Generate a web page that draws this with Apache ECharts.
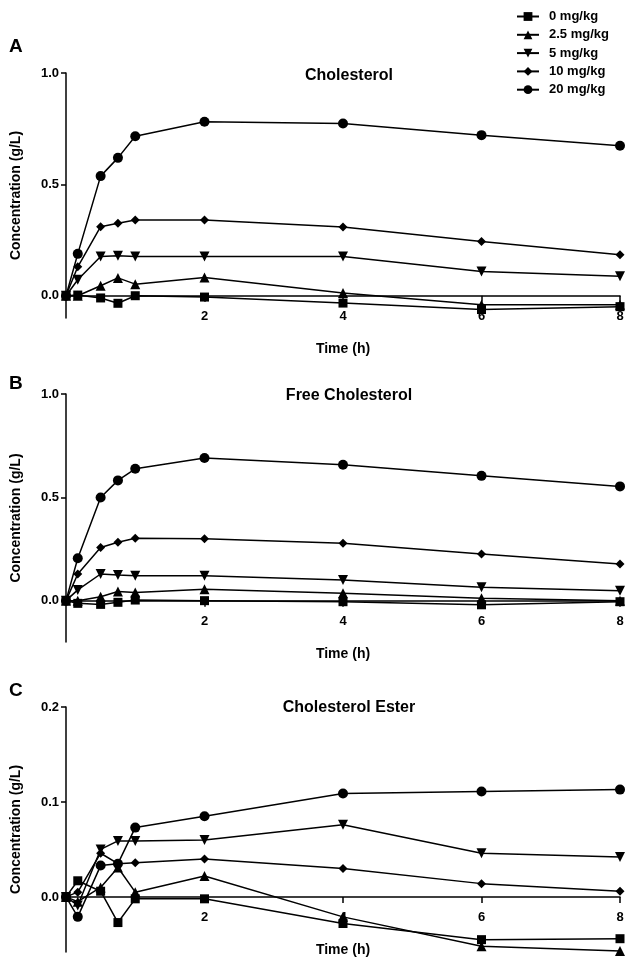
<!DOCTYPE html>
<html>
<head>
<meta charset="utf-8">
<script src="https://cdn.jsdelivr.net/npm/echarts@6/dist/echarts.min.js"></script>
<style>html,body{margin:0;padding:0;background:#fff;}#c{width:632px;height:963px;}</style>
</head>
<body>
<div id="c"></div>
<script>
// Time points (h)
const times = [0, 0.17, 0.5, 0.75, 1, 2, 4, 6, 8];
const doseNames = ['0 mg/kg', '2.5 mg/kg', '5 mg/kg', '10 mg/kg', '20 mg/kg'];
const xTicks = [2, 4, 6, 8];

// Panel A: Cholesterol (g/L)
const cholDose0  = [0, 0.003, -0.010, -0.034, 0.000, -0.006, -0.033, -0.062, -0.049];
const cholDose25 = [0, 0.000, 0.045, 0.080, 0.052, 0.082, 0.012, -0.040, -0.040];
const cholDose5  = [0, 0.072, 0.176, 0.179, 0.176, 0.176, 0.176, 0.109, 0.087];
const cholDose10 = [0, 0.130, 0.310, 0.325, 0.340, 0.340, 0.309, 0.243, 0.184];
const cholDose20 = [0, 0.188, 0.537, 0.619, 0.716, 0.781, 0.773, 0.721, 0.673];
const cholTicks = [0, 0.5, 1.0];

// Panel B: Free Cholesterol (g/L)
const freeDose0  = [0, -0.013, -0.018, -0.008, 0.003, 0.000, -0.005, -0.020, -0.005];
const freeDose25 = [0, 0.000, 0.019, 0.044, 0.040, 0.055, 0.036, 0.012, 0.000];
const freeDose5  = [0, 0.052, 0.129, 0.124, 0.120, 0.120, 0.100, 0.065, 0.048];
const freeDose10 = [0, 0.129, 0.257, 0.283, 0.302, 0.299, 0.278, 0.226, 0.178];
const freeDose20 = [0, 0.205, 0.499, 0.582, 0.638, 0.690, 0.658, 0.604, 0.553];
const freeTicks = [0, 0.5, 1.0];

// Panel C: Cholesterol Ester (g/L)
const esterDose0  = [0, 0.017, 0.006, -0.027, -0.002, -0.002, -0.028, -0.045, -0.044];
const esterDose25 = [0, -0.005, 0.010, 0.031, 0.005, 0.022, -0.021, -0.052, -0.057];
const esterDose5  = [0, -0.009, 0.050, 0.059, 0.059, 0.060, 0.076, 0.046, 0.042];
const esterDose10 = [0, 0.005, 0.046, 0.035, 0.036, 0.040, 0.030, 0.014, 0.006];
const esterDose20 = [0, -0.021, 0.033, 0.035, 0.073, 0.085, 0.109, 0.111, 0.113];
const esterTicks = [0, 0.1, 0.2];

const panels = [
  { title: 'Cholesterol', letter: 'A', values: [cholDose0, cholDose25, cholDose5, cholDose10, cholDose20], ticks: cholTicks, min: -0.1, max: 1.0 },
  { title: 'Free Cholesterol', letter: 'B', values: [freeDose0, freeDose25, freeDose5, freeDose10, freeDose20], ticks: freeTicks, min: -0.2, max: 1.0 },
  { title: 'Cholesterol Ester', letter: 'C', values: [esterDose0, esterDose25, esterDose5, esterDose10, esterDose20], ticks: esterTicks, min: -0.058, max: 0.2 }
];

const FONT = '"Liberation Sans", Arial, Helvetica, sans-serif';
const gridBoxes = [
  { top: 73, height: 245 },
  { top: 394, height: 248 },
  { top: 707, height: 245 }
];
const titleTops = [63, 383, 695];
const letterTops = [32, 369, 676];
const symbols = [
  { symbol: 'rect', size: 9, rotate: 0 },
  { symbol: 'triangle', size: 10, rotate: 0 },
  { symbol: 'triangle', size: 10, rotate: 180 },
  { symbol: 'diamond', size: 9, rotate: 0 },
  { symbol: 'circle', size: 10, rotate: 0 }
];

const grids = [], xAxes = [], yAxes = [], series = [], titles = [];
panels.forEach((p, i) => {
  const g = gridBoxes[i];
  grids.push({ left: 66, right: 12, top: g.top, height: g.height, containLabel: false });
  // place the x axis on the zero line: shift it up from the grid bottom
  const zeroShift = g.height * (0 - p.min) / (p.max - p.min);
  xAxes.push({
    gridIndex: i, type: 'value', min: 0, max: 8, position: 'bottom', offset: -zeroShift,
    name: 'Time (h)', nameLocation: 'middle', nameGap: 46,
    nameTextStyle: { color: '#000', fontFamily: FONT, fontWeight: 'bold', fontSize: 14 },
    axisLine: { onZero: false, lineStyle: { color: '#000', width: 1.5 } },
    axisTick: { show: true, length: 6, customValues: xTicks, lineStyle: { color: '#000', width: 1.5 } },
    axisLabel: { customValues: xTicks, margin: 14, color: '#000', fontFamily: FONT, fontWeight: 'bold', fontSize: 13 },
    splitLine: { show: false }
  });
  yAxes.push({
    gridIndex: i, type: 'value', min: p.min, max: p.max,
    name: 'Concentration (g/L)', nameLocation: 'middle', nameGap: 43,
    nameTextStyle: { color: '#000', fontFamily: FONT, fontWeight: 'bold', fontSize: 14 },
    axisLine: { show: true, onZero: false, lineStyle: { color: '#000', width: 1.5 } },
    axisTick: { show: true, length: 5, customValues: p.ticks, lineStyle: { color: '#000', width: 1.5 } },
    axisLabel: { customValues: p.ticks, margin: 7, color: '#000', fontFamily: FONT, fontWeight: 'bold', fontSize: 13,
      formatter: v => Number(v).toFixed(1) },
    splitLine: { show: false }
  });
  p.values.forEach((vals, k) => {
    series.push({
      name: doseNames[k], type: 'line', xAxisIndex: i, yAxisIndex: i,
      data: times.map((t, j) => [t, vals[j]]),
      symbol: symbols[k].symbol, symbolSize: symbols[k].size, symbolRotate: symbols[k].rotate,
      showAllSymbol: true,
      lineStyle: { color: '#000', width: 1.5 },
      itemStyle: { color: '#000', borderWidth: 0 },
      emphasis: { disabled: true },
      z: 2 + k
    });
  });
  titles.push({ text: p.title, left: 344, top: titleTops[i], textAlign: 'center',
    textStyle: { color: '#000', fontFamily: FONT, fontWeight: 'bold', fontSize: 16 } });
  titles.push({ text: p.letter, left: 4, top: letterTops[i],
    textStyle: { color: '#000', fontFamily: FONT, fontWeight: 'bold', fontSize: 19 } });
});

const chart = echarts.init(document.getElementById('c'), null, { renderer: 'canvas' });
chart.setOption({
  animation: false,
  backgroundColor: '#fff',
  title: titles,
  legend: {
    data: doseNames, orient: 'vertical', left: 511, top: 5,
    itemWidth: 22, itemHeight: 11, itemGap: 5.3,
    textStyle: { color: '#000', fontFamily: FONT, fontWeight: 'bold', fontSize: 13, padding: [0, 0, 0, 5] },
    selectedMode: false
  },
  grid: grids,
  xAxis: xAxes,
  yAxis: yAxes,
  series: series
});
</script>
</body>
</html>
